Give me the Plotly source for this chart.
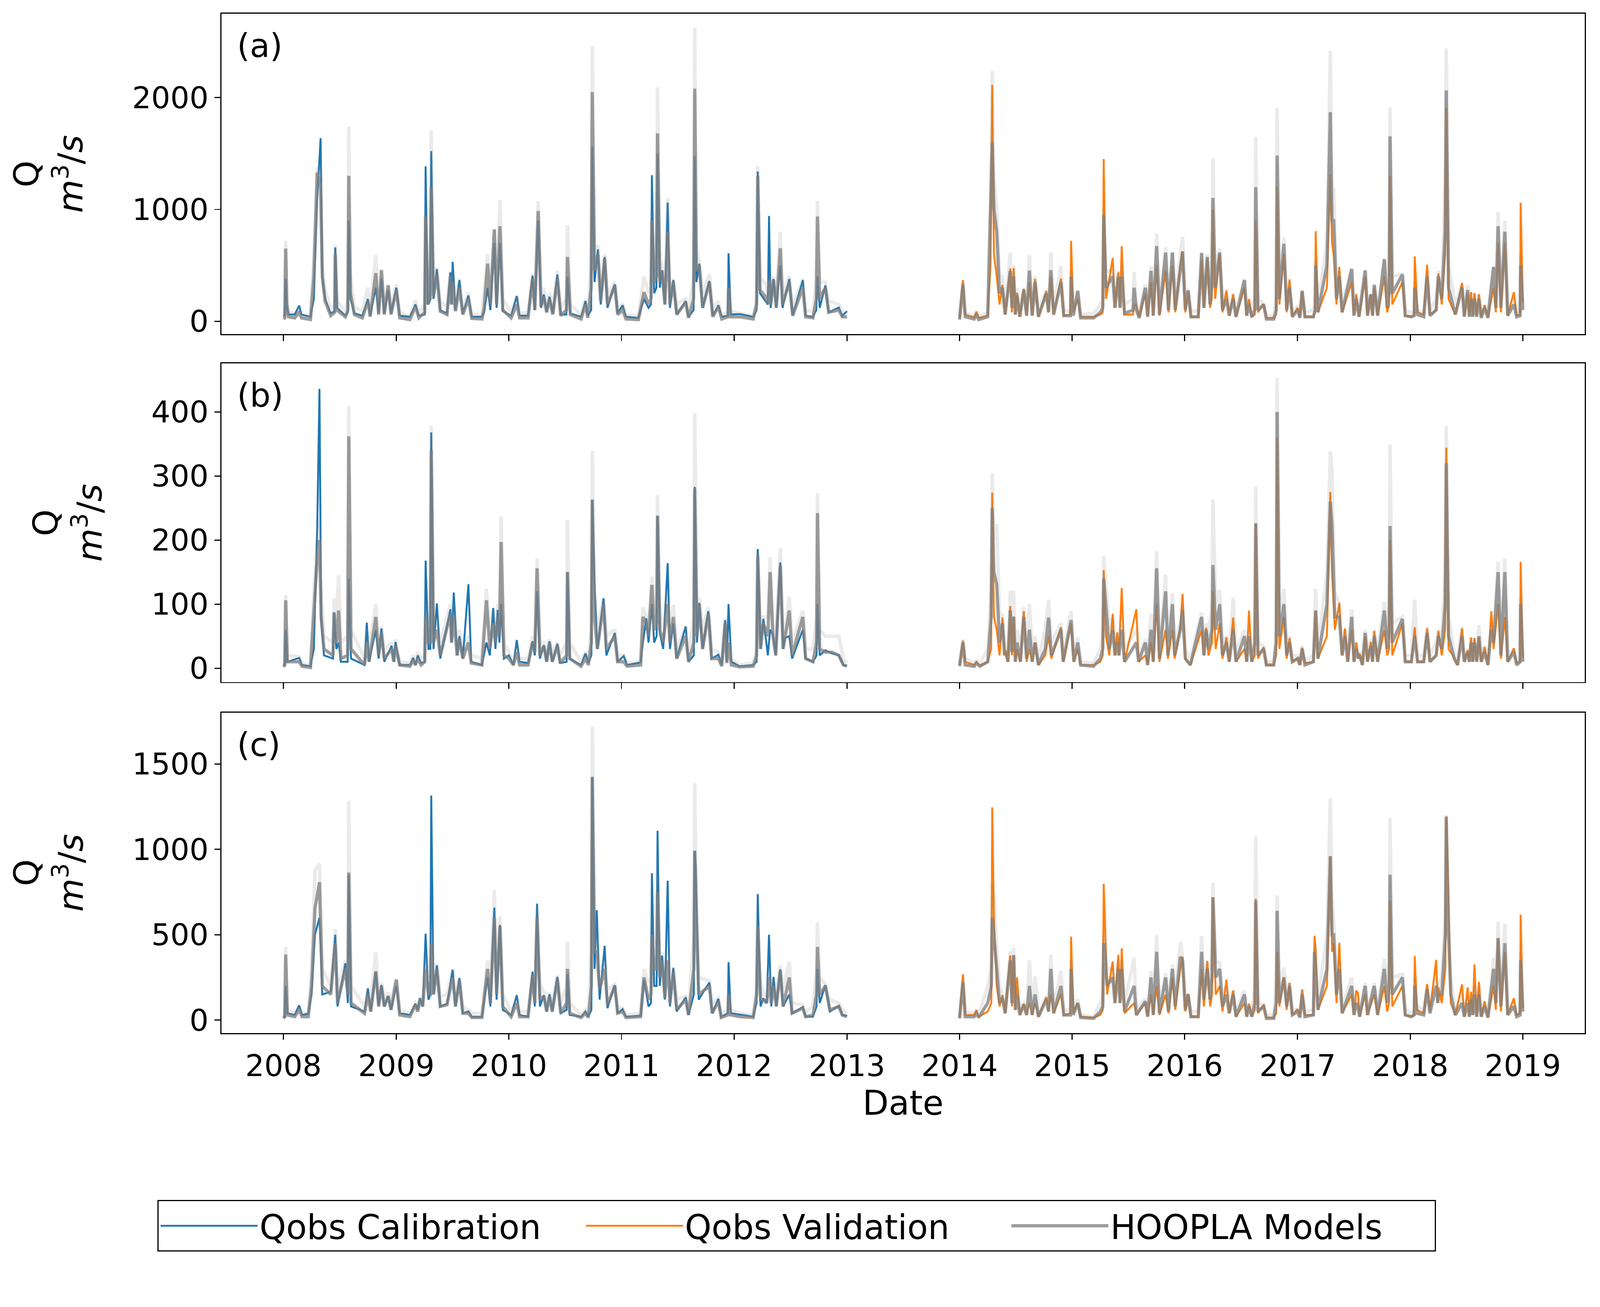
import pandas as pd
import plotly.graph_objects as go
from plotly.subplots import make_subplots

# ======================= Panel (a) : calibration 2008-2012 =======================
a_cal_t = [2008.000, 2008.012, 2008.020, 2008.030, 2008.045, 2008.100, 2008.140, 2008.160, 2008.240, 2008.270,
           2008.300, 2008.330, 2008.345, 2008.370, 2008.420, 2008.455, 2008.460, 2008.475, 2008.550, 2008.572,
           2008.580, 2008.595, 2008.630, 2008.700, 2008.750, 2008.770, 2008.820, 2008.845, 2008.870, 2008.895,
           2008.930, 2008.955, 2009.000, 2009.030, 2009.120, 2009.170, 2009.200, 2009.252, 2009.260, 2009.280,
           2009.300, 2009.310, 2009.330, 2009.360, 2009.390, 2009.450, 2009.480, 2009.490, 2009.500, 2009.525,
           2009.560, 2009.590, 2009.640, 2009.670, 2009.760, 2009.780, 2009.810, 2009.835, 2009.870, 2009.890,
           2009.920, 2009.945, 2010.020, 2010.070, 2010.095, 2010.170, 2010.210, 2010.230, 2010.260, 2010.285,
           2010.310, 2010.335, 2010.360, 2010.390, 2010.430, 2010.460, 2010.510, 2010.520, 2010.545, 2010.640,
           2010.680, 2010.700, 2010.730, 2010.740, 2010.760, 2010.790, 2010.815, 2010.850, 2010.875, 2010.940,
           2010.965, 2011.010, 2011.040, 2011.150, 2011.200, 2011.240, 2011.262, 2011.270, 2011.290, 2011.310,
           2011.320, 2011.340, 2011.360, 2011.385, 2011.410, 2011.430, 2011.460, 2011.490, 2011.570, 2011.595,
           2011.640, 2011.650, 2011.665, 2011.690, 2011.720, 2011.780, 2011.810, 2011.860, 2011.890, 2011.945,
           2011.950, 2011.970, 2012.050, 2012.170, 2012.200, 2012.210, 2012.230, 2012.280, 2012.300, 2012.310,
           2012.325, 2012.350, 2012.375, 2012.410, 2012.430, 2012.490, 2012.520, 2012.610, 2012.635, 2012.700,
           2012.730, 2012.740, 2012.760, 2012.810, 2012.840, 2012.930, 2012.960, 2013.000]
a_cal_obs = [50, 50, 380, 120, 60, 60, 140, 60, 40, 200,
             1100, 1637, 400, 200, 70, 90, 660, 120, 50, 80,
             900, 200, 70, 50, 200, 50, 300, 70, 380, 70,
             280, 70, 300, 50, 40, 150, 50, 60, 1384, 150,
             200, 1522, 200, 466, 100, 70, 437, 150, 531, 100,
             368, 70, 231, 40, 40, 80, 300, 100, 700, 120,
             700, 90, 50, 225, 50, 50, 408, 100, 900, 120,
             240, 80, 220, 70, 418, 60, 60, 400, 70, 40,
             180, 50, 100, 1560, 350, 643, 150, 575, 120, 330,
             70, 143, 40, 30, 200, 120, 150, 1306, 250, 300,
             1500, 300, 457, 150, 1061, 120, 368, 60, 180, 40,
             100, 1480, 350, 515, 120, 360, 50, 143, 40, 50,
             608, 60, 65, 40, 100, 1340, 250, 180, 150, 941,
             120, 378, 120, 500, 120, 378, 50, 368, 50, 40,
             100, 400, 120, 320, 80, 123, 50, 90]
a_cal_mod = [20, 30, 650, 150, 40, 30, 80, 30, 15, 400,
             1330, 1200, 400, 180, 50, 80, 600, 100, 40, 100,
             1300, 250, 60, 30, 180, 40, 430, 60, 456, 60,
             320, 60, 280, 30, 15, 130, 30, 80, 940, 150,
             200, 1200, 220, 420, 90, 60, 400, 150, 350, 90,
             300, 60, 200, 25, 20, 120, 515, 150, 820, 150,
             850, 100, 30, 150, 30, 30, 380, 100, 986, 130,
             220, 80, 200, 60, 380, 50, 100, 575, 60, 20,
             150, 30, 300, 2050, 450, 600, 180, 560, 150, 320,
             60, 100, 20, 15, 260, 150, 200, 900, 350, 400,
             1680, 350, 450, 150, 800, 150, 350, 60, 170, 30,
             200, 2080, 450, 500, 120, 350, 40, 130, 20, 40,
             300, 40, 40, 20, 150, 1300, 280, 220, 150, 368,
             150, 370, 120, 653, 150, 350, 50, 300, 40, 30,
             200, 937, 200, 300, 80, 100, 40, 40]
a_cal_env = [40, 60, 720, 200, 90, 60, 120, 60, 40, 600,
             1360, 1400, 500, 280, 120, 130, 680, 180, 90, 200,
             1740, 400, 130, 90, 300, 100, 590, 130, 470, 130,
             330, 130, 330, 80, 40, 190, 70, 150, 1000, 250,
             300, 1710, 350, 480, 180, 130, 450, 250, 450, 170,
             380, 120, 260, 60, 60, 250, 600, 250, 830, 250,
             1084, 200, 80, 230, 70, 80, 420, 200, 1075, 220,
             300, 150, 260, 130, 450, 120, 200, 860, 150, 60,
             200, 80, 500, 2460, 650, 680, 280, 600, 250, 350,
             120, 150, 60, 50, 400, 250, 300, 1000, 450, 600,
             2090, 550, 500, 250, 1100, 250, 380, 150, 200, 80,
             400, 2620, 650, 540, 250, 420, 120, 180, 60, 80,
             350, 90, 70, 50, 200, 1388, 400, 330, 250, 400,
             250, 400, 220, 800, 260, 400, 120, 380, 100, 80,
             400, 1075, 350, 350, 180, 150, 90, 60]

# ======================= Panel (a) : validation 2014-2018 =======================
a_val_t = [2014.000, 2014.030, 2014.050, 2014.130, 2014.150, 2014.170, 2014.250, 2014.275, 2014.290, 2014.305,
           2014.330, 2014.355, 2014.380, 2014.405, 2014.450, 2014.465, 2014.480, 2014.495, 2014.510, 2014.535,
           2014.570, 2014.595, 2014.620, 2014.645, 2014.670, 2014.700, 2014.770, 2014.790, 2014.810, 2014.835,
           2014.900, 2014.925, 2014.985, 2014.990, 2015.010, 2015.050, 2015.075, 2015.190, 2015.250, 2015.272,
           2015.280, 2015.300, 2015.360, 2015.380, 2015.410, 2015.425, 2015.440, 2015.465, 2015.540, 2015.550,
           2015.570, 2015.595, 2015.650, 2015.670, 2015.700, 2015.720, 2015.750, 2015.775, 2015.830, 2015.855,
           2015.890, 2015.915, 2015.960, 2015.980, 2016.005, 2016.030, 2016.055, 2016.120, 2016.150, 2016.170,
           2016.200, 2016.225, 2016.240, 2016.250, 2016.270, 2016.310, 2016.335, 2016.370, 2016.395, 2016.430,
           2016.455, 2016.530, 2016.550, 2016.570, 2016.595, 2016.622, 2016.630, 2016.650, 2016.700, 2016.725,
           2016.790, 2016.812, 2016.820, 2016.840, 2016.880, 2016.905, 2016.930, 2016.955, 2017.000, 2017.020,
           2017.040, 2017.065, 2017.140, 2017.155, 2017.160, 2017.180, 2017.260, 2017.290, 2017.305, 2017.320,
           2017.345, 2017.370, 2017.395, 2017.480, 2017.500, 2017.520, 2017.545, 2017.600, 2017.620, 2017.650,
           2017.665, 2017.680, 2017.710, 2017.770, 2017.795, 2017.812, 2017.820, 2017.840, 2017.930, 2017.955,
           2018.010, 2018.035, 2018.040, 2018.065, 2018.120, 2018.150, 2018.175, 2018.230, 2018.250, 2018.280,
           2018.310, 2018.320, 2018.340, 2018.400, 2018.460, 2018.480, 2018.510, 2018.525, 2018.540, 2018.555,
           2018.570, 2018.590, 2018.610, 2018.630, 2018.660, 2018.690, 2018.740, 2018.760, 2018.780, 2018.805,
           2018.840, 2018.865, 2018.920, 2018.945, 2018.975, 2018.980, 2019.000]
a_val_obs = [30, 369, 60, 35, 85, 30, 50, 500, 2114, 600,
             400, 150, 325, 60, 472, 80, 476, 60, 255, 40,
             290, 50, 350, 50, 378, 40, 270, 80, 400, 60,
             382, 50, 60, 720, 80, 200, 40, 40, 60, 80,
             1451, 200, 565, 120, 437, 120, 671, 60, 60, 150,
             143, 40, 250, 40, 350, 50, 500, 50, 450, 80,
             500, 80, 500, 624, 80, 260, 40, 40, 550, 120,
             560, 120, 200, 1000, 200, 600, 80, 276, 50, 241,
             40, 300, 50, 198, 40, 60, 900, 80, 153, 30,
             30, 60, 1200, 150, 600, 80, 374, 40, 120, 40,
             270, 40, 40, 100, 806, 80, 300, 1310, 700, 600,
             150, 486, 80, 350, 50, 241, 40, 400, 50, 241,
             50, 300, 50, 400, 80, 150, 1300, 150, 350, 50,
             40, 60, 580, 80, 60, 506, 60, 100, 427, 150,
             600, 1912, 200, 60, 343, 50, 250, 50, 261, 50,
             251, 50, 241, 40, 143, 40, 300, 80, 700, 80,
             700, 50, 261, 50, 60, 1059, 173]
a_val_mod = [15, 330, 40, 20, 60, 15, 40, 900, 1600, 1000,
             800, 250, 300, 60, 450, 120, 400, 60, 230, 40,
             280, 50, 453, 50, 350, 40, 250, 80, 457, 60,
             350, 50, 50, 400, 50, 270, 30, 30, 80, 120,
             950, 300, 400, 120, 400, 120, 400, 70, 100, 300,
             100, 30, 300, 40, 450, 50, 672, 60, 614, 100,
             614, 100, 500, 624, 100, 276, 40, 40, 610, 120,
             575, 150, 300, 1104, 300, 614, 100, 200, 50, 200,
             40, 368, 50, 150, 40, 100, 1200, 100, 150, 20,
             20, 100, 1482, 200, 692, 100, 300, 40, 100, 30,
             270, 40, 40, 100, 500, 80, 500, 1870, 900, 900,
             200, 400, 80, 467, 50, 200, 40, 453, 50, 240,
             50, 325, 50, 555, 120, 250, 1653, 250, 418, 50,
             40, 50, 300, 60, 40, 400, 50, 100, 400, 200,
             800, 2065, 300, 60, 300, 40, 280, 40, 200, 40,
             200, 40, 200, 30, 120, 30, 486, 120, 850, 120,
             800, 50, 150, 40, 50, 500, 100]
a_val_env = [40, 360, 80, 40, 90, 40, 80, 1100, 2237, 1270,
             1000, 400, 400, 120, 614, 200, 500, 120, 300, 90,
             300, 100, 590, 110, 400, 90, 280, 150, 617, 130,
             496, 100, 80, 450, 100, 280, 60, 70, 150, 200,
             1006, 450, 450, 200, 450, 200, 500, 150, 200, 443,
             150, 80, 330, 90, 492, 120, 784, 150, 663, 200,
             620, 200, 584, 755, 200, 290, 90, 90, 620, 200,
             600, 250, 500, 1457, 450, 653, 200, 250, 100, 250,
             90, 380, 100, 200, 90, 200, 1649, 200, 160, 50,
             50, 200, 1908, 300, 750, 200, 350, 90, 130, 60,
             280, 80, 100, 150, 550, 160, 700, 2418, 1200, 1182,
             350, 450, 160, 470, 100, 250, 90, 460, 120, 250,
             120, 330, 100, 560, 220, 400, 1912, 400, 420, 100,
             80, 80, 350, 100, 80, 450, 100, 200, 450, 300,
             1200, 2441, 500, 150, 330, 90, 324, 90, 261, 90,
             251, 90, 241, 80, 143, 80, 490, 180, 976, 220,
             898, 110, 200, 90, 100, 600, 150]

# ======================= Panel (b) : calibration =======================
b_cal_t = [2008.000, 2008.012, 2008.020, 2008.035, 2008.140, 2008.165, 2008.240, 2008.270, 2008.300, 2008.320,
           2008.335, 2008.360, 2008.440, 2008.450, 2008.470, 2008.490, 2008.510, 2008.570, 2008.580, 2008.600,
           2008.720, 2008.740, 2008.760, 2008.820, 2008.845, 2008.870, 2008.895, 2008.960, 2008.980, 2008.995,
           2009.030, 2009.120, 2009.150, 2009.170, 2009.190, 2009.220, 2009.252, 2009.260, 2009.285, 2009.302,
           2009.310, 2009.330, 2009.360, 2009.390, 2009.480, 2009.490, 2009.510, 2009.540, 2009.560, 2009.590,
           2009.640, 2009.665, 2009.760, 2009.800, 2009.830, 2009.860, 2009.880, 2009.900, 2009.915, 2009.930,
           2009.955, 2010.000, 2010.040, 2010.070, 2010.095, 2010.170, 2010.210, 2010.230, 2010.250, 2010.275,
           2010.310, 2010.335, 2010.360, 2010.385, 2010.430, 2010.455, 2010.512, 2010.520, 2010.540, 2010.640,
           2010.680, 2010.705, 2010.732, 2010.740, 2010.760, 2010.785, 2010.840, 2010.865, 2010.940, 2010.965,
           2011.020, 2011.050, 2011.170, 2011.190, 2011.220, 2011.240, 2011.270, 2011.290, 2011.312, 2011.320,
           2011.340, 2011.370, 2011.410, 2011.430, 2011.460, 2011.490, 2011.570, 2011.595, 2011.642, 2011.650,
           2011.670, 2011.690, 2011.720, 2011.770, 2011.780, 2011.800, 2011.860, 2011.890, 2011.920, 2011.935,
           2011.950, 2011.975, 2012.050, 2012.170, 2012.200, 2012.210, 2012.235, 2012.260, 2012.300, 2012.320,
           2012.345, 2012.370, 2012.410, 2012.435, 2012.450, 2012.490, 2012.515, 2012.610, 2012.635, 2012.700,
           2012.732, 2012.740, 2012.760, 2012.810, 2012.870, 2012.930, 2012.970, 2013.000]
b_cal_obs = [5, 5, 60, 10, 16, 5, 3, 30, 219, 436,
             74, 20, 15, 87, 30, 40, 10, 10, 140, 15,
             5, 71, 10, 60, 15, 62, 10, 35, 10, 41,
             5, 5, 16, 5, 20, 8, 10, 168, 30, 30,
             368, 30, 101, 15, 92, 40, 118, 20, 50, 15,
             131, 10, 5, 40, 20, 94, 30, 91, 40, 100,
             15, 20, 5, 44, 10, 8, 42, 20, 120, 15,
             36, 10, 42, 10, 38, 8, 10, 150, 15, 5,
             23, 8, 20, 263, 131, 30, 109, 20, 55, 10,
             19, 5, 9, 40, 78, 40, 100, 40, 50, 238,
             55, 30, 164, 30, 70, 15, 65, 10, 20, 283,
             40, 102, 30, 89, 75, 15, 21, 5, 75, 10,
             100, 10, 3, 5, 10, 186, 30, 77, 20, 60,
             52, 20, 165, 30, 47, 50, 15, 60, 15, 10,
             20, 100, 20, 28, 23, 20, 5, 4]
b_cal_mod = [2, 5, 106, 10, 10, 3, 1, 80, 173, 200,
             80, 30, 20, 87, 40, 90, 15, 20, 362, 30,
             5, 40, 10, 80, 20, 55, 15, 30, 10, 35,
             5, 3, 12, 5, 15, 5, 10, 80, 40, 40,
             340, 40, 60, 20, 85, 40, 80, 20, 45, 15,
             40, 8, 5, 106, 30, 70, 40, 80, 50, 197,
             20, 15, 5, 25, 5, 5, 40, 25, 156, 20,
             35, 10, 40, 10, 35, 8, 20, 150, 15, 3,
             15, 5, 40, 263, 80, 30, 100, 30, 50, 10,
             10, 3, 5, 80, 70, 50, 130, 60, 70, 238,
             60, 40, 100, 40, 80, 15, 50, 10, 40, 280,
             50, 100, 30, 85, 60, 15, 15, 3, 70, 8,
             40, 5, 2, 3, 20, 175, 30, 70, 50, 150,
             50, 20, 160, 30, 45, 90, 20, 80, 15, 10,
             40, 242, 30, 25, 25, 20, 5, 3]
b_cal_env = [5, 10, 114, 20, 18, 8, 5, 120, 200, 230,
             120, 50, 40, 109, 80, 145, 40, 50, 409, 60,
             15, 60, 30, 100, 40, 65, 30, 40, 20, 45,
             10, 8, 20, 10, 25, 15, 20, 100, 60, 60,
             379, 70, 80, 40, 100, 60, 100, 40, 60, 30,
             50, 20, 15, 124, 50, 90, 60, 100, 70, 237,
             40, 25, 10, 35, 15, 15, 50, 40, 171, 40,
             40, 25, 45, 25, 40, 20, 40, 232, 40, 10,
             25, 15, 60, 339, 120, 60, 110, 50, 60, 20,
             20, 8, 10, 95, 80, 63, 143, 90, 100, 270,
             90, 60, 120, 60, 99, 30, 65, 20, 80, 398,
             100, 110, 60, 95, 80, 30, 25, 10, 78, 15,
             50, 15, 5, 8, 30, 185, 60, 80, 80, 173,
             60, 40, 187, 60, 50, 112, 40, 90, 30, 30,
             80, 273, 60, 50, 50, 50, 15, 8]

# ======================= Panel (b) : validation =======================
b_val_t = [2014.000, 2014.030, 2014.050, 2014.130, 2014.150, 2014.180, 2014.250, 2014.280, 2014.290, 2014.305,
           2014.330, 2014.355, 2014.380, 2014.400, 2014.410, 2014.430, 2014.450, 2014.465, 2014.480, 2014.495,
           2014.510, 2014.540, 2014.570, 2014.595, 2014.620, 2014.645, 2014.670, 2014.700, 2014.760, 2014.790,
           2014.815, 2014.900, 2014.920, 2014.990, 2015.015, 2015.050, 2015.075, 2015.190, 2015.250, 2015.272,
           2015.280, 2015.300, 2015.330, 2015.360, 2015.380, 2015.400, 2015.415, 2015.440, 2015.465, 2015.570,
           2015.590, 2015.650, 2015.670, 2015.700, 2015.720, 2015.750, 2015.775, 2015.830, 2015.850, 2015.890,
           2015.910, 2015.960, 2015.980, 2016.005, 2016.050, 2016.150, 2016.170, 2016.190, 2016.210, 2016.242,
           2016.250, 2016.275, 2016.310, 2016.335, 2016.370, 2016.395, 2016.430, 2016.455, 2016.530, 2016.550,
           2016.570, 2016.595, 2016.622, 2016.630, 2016.650, 2016.700, 2016.725, 2016.790, 2016.812, 2016.820,
           2016.840, 2016.880, 2016.905, 2016.930, 2016.955, 2017.000, 2017.020, 2017.040, 2017.065, 2017.140,
           2017.160, 2017.180, 2017.260, 2017.290, 2017.305, 2017.330, 2017.370, 2017.395, 2017.420, 2017.445,
           2017.480, 2017.500, 2017.520, 2017.540, 2017.550, 2017.575, 2017.600, 2017.620, 2017.650, 2017.665,
           2017.680, 2017.710, 2017.770, 2017.795, 2017.812, 2017.820, 2017.840, 2017.930, 2017.955, 2018.010,
           2018.040, 2018.065, 2018.120, 2018.150, 2018.175, 2018.230, 2018.250, 2018.280, 2018.310, 2018.320,
           2018.340, 2018.390, 2018.420, 2018.460, 2018.480, 2018.510, 2018.525, 2018.540, 2018.555, 2018.570,
           2018.590, 2018.610, 2018.630, 2018.660, 2018.690, 2018.720, 2018.740, 2018.780, 2018.805, 2018.840,
           2018.865, 2018.920, 2018.945, 2018.975, 2018.980, 2019.000]
b_val_obs = [5, 43, 10, 5, 10, 4, 10, 30, 274, 80,
             60, 20, 79, 20, 28, 10, 97, 20, 81, 10,
             30, 10, 89, 10, 30, 10, 40, 5, 20, 50,
             15, 64, 10, 70, 10, 30, 5, 5, 10, 20,
             153, 50, 20, 85, 20, 56, 20, 125, 10, 92,
             10, 20, 5, 40, 10, 100, 10, 60, 15, 60,
             15, 63, 116, 15, 5, 60, 20, 63, 20, 40,
             120, 30, 70, 15, 48, 10, 79, 10, 30, 10,
             90, 10, 20, 226, 15, 33, 5, 5, 20, 360,
             30, 80, 15, 47, 10, 16, 5, 32, 8, 10,
             90, 15, 50, 275, 150, 60, 102, 20, 62, 10,
             60, 10, 40, 15, 23, 5, 50, 10, 41, 10,
             58, 10, 60, 20, 30, 200, 20, 70, 10, 10,
             64, 10, 10, 62, 10, 20, 58, 20, 60, 344,
             30, 17, 5, 62, 10, 28, 10, 48, 10, 47,
             10, 48, 10, 33, 5, 89, 30, 100, 15, 80,
             10, 31, 8, 10, 166, 18]
b_val_mod = [3, 40, 5, 3, 8, 3, 10, 80, 250, 150,
             131, 40, 70, 20, 25, 10, 90, 25, 80, 10,
             40, 10, 80, 15, 60, 10, 40, 5, 30, 79,
             20, 60, 10, 75, 10, 40, 5, 3, 15, 30,
             140, 100, 30, 60, 20, 40, 20, 60, 10, 40,
             10, 40, 5, 60, 10, 156, 15, 120, 20, 100,
             20, 60, 90, 15, 5, 80, 20, 60, 30, 60,
             161, 60, 100, 20, 40, 10, 60, 10, 50, 10,
             50, 10, 40, 226, 20, 30, 5, 5, 40, 400,
             50, 100, 20, 40, 10, 15, 5, 30, 5, 10,
             90, 15, 100, 260, 224, 80, 80, 20, 50, 10,
             80, 10, 30, 15, 20, 5, 55, 10, 35, 10,
             50, 10, 90, 30, 60, 222, 40, 77, 10, 10,
             50, 10, 10, 55, 10, 20, 50, 30, 100, 320,
             50, 15, 5, 50, 10, 25, 10, 40, 10, 40,
             10, 50, 10, 25, 5, 60, 40, 150, 20, 150,
             10, 25, 5, 10, 100, 10]
b_val_env = [8, 45, 15, 8, 12, 8, 30, 120, 304, 200,
             225, 80, 85, 40, 35, 25, 121, 50, 121, 30,
             60, 30, 95, 30, 100, 30, 50, 15, 60, 107,
             40, 70, 25, 89, 20, 48, 10, 8, 30, 50,
             175, 126, 60, 80, 40, 50, 40, 80, 30, 60,
             20, 45, 15, 85, 25, 183, 30, 146, 40, 117,
             40, 70, 100, 30, 15, 87, 40, 70, 50, 100,
             263, 100, 122, 40, 50, 25, 110, 25, 60, 25,
             60, 25, 60, 283, 40, 35, 10, 10, 60, 453,
             80, 124, 40, 50, 20, 20, 10, 35, 12, 20,
             124, 30, 150, 338, 308, 120, 100, 40, 60, 25,
             92, 25, 40, 25, 25, 15, 60, 25, 45, 20,
             60, 25, 104, 50, 100, 349, 70, 80, 20, 20,
             107, 20, 20, 65, 20, 40, 60, 50, 150, 378,
             80, 25, 15, 65, 20, 30, 20, 48, 20, 47,
             20, 67, 20, 35, 15, 70, 50, 166, 40, 171,
             20, 30, 12, 15, 110, 15]

# ======================= Panel (c) : calibration =======================
c_cal_t = [2008.000, 2008.012, 2008.020, 2008.035, 2008.100, 2008.140, 2008.165, 2008.220, 2008.250, 2008.280,
           2008.320, 2008.345, 2008.420, 2008.460, 2008.480, 2008.550, 2008.572, 2008.580, 2008.600, 2008.720,
           2008.750, 2008.775, 2008.820, 2008.845, 2008.870, 2008.895, 2008.930, 2008.955, 2009.000, 2009.030,
           2009.120, 2009.170, 2009.190, 2009.210, 2009.235, 2009.260, 2009.285, 2009.302, 2009.310, 2009.330,
           2009.360, 2009.390, 2009.450, 2009.500, 2009.525, 2009.560, 2009.590, 2009.640, 2009.670, 2009.760,
           2009.810, 2009.835, 2009.870, 2009.890, 2009.920, 2009.945, 2010.020, 2010.070, 2010.095, 2010.170,
           2010.210, 2010.230, 2010.250, 2010.275, 2010.310, 2010.335, 2010.360, 2010.385, 2010.430, 2010.460,
           2010.512, 2010.520, 2010.540, 2010.640, 2010.680, 2010.705, 2010.732, 2010.740, 2010.760, 2010.780,
           2010.805, 2010.850, 2010.875, 2010.940, 2010.965, 2011.010, 2011.040, 2011.170, 2011.200, 2011.240,
           2011.262, 2011.270, 2011.290, 2011.312, 2011.320, 2011.340, 2011.360, 2011.385, 2011.410, 2011.430,
           2011.460, 2011.490, 2011.570, 2011.595, 2011.642, 2011.650, 2011.660, 2011.685, 2011.780, 2011.805,
           2011.860, 2011.885, 2011.945, 2011.950, 2011.970, 2012.050, 2012.170, 2012.200, 2012.210, 2012.235,
           2012.260, 2012.290, 2012.310, 2012.330, 2012.350, 2012.375, 2012.410, 2012.435, 2012.490, 2012.515,
           2012.610, 2012.635, 2012.700, 2012.732, 2012.740, 2012.760, 2012.810, 2012.830, 2012.850, 2012.930,
           2012.960, 2013.000]
c_cal_obs = [20, 20, 200, 40, 30, 86, 30, 38, 147, 500,
             600, 150, 166, 500, 80, 333, 100, 850, 80, 50,
             186, 50, 285, 80, 205, 80, 141, 60, 200, 40,
             30, 96, 60, 128, 80, 506, 120, 150, 1315, 150,
             320, 80, 96, 294, 80, 246, 40, 51, 20, 20,
             250, 80, 659, 120, 557, 60, 30, 146, 30, 20,
             282, 80, 682, 80, 146, 50, 151, 50, 253, 40,
             60, 269, 30, 20, 51, 20, 60, 1424, 300, 644,
             120, 435, 70, 205, 40, 64, 20, 26, 237, 80,
             100, 860, 200, 200, 1109, 200, 378, 120, 817, 80,
             305, 50, 134, 30, 150, 992, 887, 120, 220, 40,
             125, 20, 40, 339, 40, 32, 20, 100, 738, 80,
             128, 100, 500, 80, 253, 80, 297, 80, 150, 40,
             77, 20, 20, 80, 300, 100, 205, 134, 50, 83,
             30, 26]
c_cal_mod = [10, 20, 384, 30, 20, 60, 20, 20, 200, 653,
             807, 200, 150, 450, 100, 300, 150, 864, 100, 40,
             150, 50, 285, 80, 200, 80, 140, 60, 237, 30,
             20, 90, 50, 120, 80, 300, 150, 150, 450, 150,
             300, 80, 90, 250, 80, 230, 40, 40, 15, 15,
             300, 100, 600, 150, 550, 80, 20, 100, 20, 20,
             260, 100, 600, 120, 140, 50, 140, 50, 240, 40,
             100, 300, 40, 15, 40, 15, 200, 1424, 400, 400,
             180, 300, 90, 200, 40, 50, 15, 20, 250, 120,
             150, 500, 300, 300, 750, 250, 350, 130, 350, 100,
             280, 60, 120, 30, 300, 992, 700, 150, 200, 40,
             110, 15, 30, 150, 30, 20, 15, 150, 550, 120,
             120, 100, 250, 100, 200, 80, 290, 80, 250, 40,
             70, 20, 30, 150, 429, 150, 200, 120, 60, 80,
             30, 20]
c_cal_env = [20, 40, 429, 60, 40, 80, 40, 40, 300, 877,
             915, 300, 200, 534, 180, 350, 250, 1284, 200, 80,
             180, 100, 397, 150, 220, 130, 160, 110, 240, 60,
             40, 100, 80, 130, 130, 380, 250, 250, 550, 250,
             330, 140, 150, 300, 130, 250, 80, 60, 40, 40,
             350, 180, 761, 250, 608, 150, 50, 120, 50, 50,
             290, 180, 650, 220, 160, 100, 160, 100, 260, 100,
             200, 461, 100, 30, 60, 30, 400, 1716, 600, 500,
             280, 350, 180, 210, 80, 70, 30, 40, 300, 220,
             250, 600, 400, 400, 850, 350, 400, 220, 400, 180,
             310, 120, 140, 60, 500, 1387, 900, 250, 230, 100,
             130, 40, 60, 180, 60, 40, 30, 200, 600, 220,
             150, 150, 300, 180, 230, 160, 320, 180, 339, 100,
             90, 50, 80, 300, 572, 250, 210, 150, 120, 100,
             60, 40]

# ======================= Panel (c) : validation =======================
c_val_t = [2014.000, 2014.030, 2014.050, 2014.130, 2014.150, 2014.170, 2014.250, 2014.282, 2014.290, 2014.305,
           2014.330, 2014.355, 2014.380, 2014.405, 2014.450, 2014.465, 2014.480, 2014.495, 2014.510, 2014.535,
           2014.570, 2014.595, 2014.620, 2014.645, 2014.670, 2014.700, 2014.770, 2014.790, 2014.810, 2014.835,
           2014.900, 2014.925, 2014.985, 2014.990, 2015.010, 2015.050, 2015.075, 2015.190, 2015.250, 2015.272,
           2015.280, 2015.290, 2015.310, 2015.360, 2015.380, 2015.410, 2015.425, 2015.440, 2015.465, 2015.550,
           2015.570, 2015.650, 2015.670, 2015.700, 2015.720, 2015.750, 2015.775, 2015.830, 2015.855, 2015.890,
           2015.915, 2015.960, 2015.980, 2016.005, 2016.030, 2016.055, 2016.120, 2016.150, 2016.170, 2016.200,
           2016.225, 2016.242, 2016.250, 2016.275, 2016.310, 2016.335, 2016.370, 2016.395, 2016.430, 2016.455,
           2016.530, 2016.550, 2016.570, 2016.595, 2016.622, 2016.630, 2016.650, 2016.700, 2016.725, 2016.790,
           2016.812, 2016.820, 2016.840, 2016.880, 2016.905, 2016.930, 2016.955, 2017.000, 2017.020, 2017.040,
           2017.065, 2017.140, 2017.150, 2017.160, 2017.180, 2017.260, 2017.290, 2017.305, 2017.320, 2017.345,
           2017.370, 2017.395, 2017.480, 2017.500, 2017.520, 2017.535, 2017.550, 2017.600, 2017.620, 2017.680,
           2017.710, 2017.770, 2017.795, 2017.812, 2017.820, 2017.840, 2017.930, 2017.955, 2018.010, 2018.035,
           2018.040, 2018.060, 2018.120, 2018.150, 2018.175, 2018.230, 2018.245, 2018.250, 2018.280, 2018.312,
           2018.320, 2018.335, 2018.360, 2018.400, 2018.460, 2018.480, 2018.510, 2018.525, 2018.540, 2018.555,
           2018.570, 2018.590, 2018.610, 2018.630, 2018.660, 2018.690, 2018.740, 2018.760, 2018.780, 2018.805,
           2018.840, 2018.865, 2018.920, 2018.945, 2018.975, 2018.980, 2019.000]
c_val_obs = [13, 269, 30, 30, 58, 20, 50, 100, 1246, 589,
             200, 80, 147, 40, 378, 80, 380, 60, 250, 30,
             96, 30, 100, 30, 100, 20, 134, 50, 150, 40,
             150, 30, 40, 489, 40, 100, 20, 15, 30, 60,
             798, 615, 150, 343, 100, 382, 100, 420, 40, 100,
             30, 100, 20, 150, 30, 200, 30, 150, 40, 250,
             60, 300, 371, 50, 154, 20, 20, 300, 80, 346,
             80, 150, 720, 150, 200, 50, 237, 40, 173, 20,
             100, 20, 96, 20, 60, 711, 40, 90, 15, 15,
             40, 400, 80, 250, 60, 218, 30, 64, 20, 179,
             30, 30, 493, 416, 60, 200, 960, 400, 450, 100,
             452, 40, 150, 30, 173, 160, 20, 150, 30, 150,
             30, 200, 50, 100, 700, 80, 200, 30, 20, 30,
             375, 60, 40, 211, 50, 352, 100, 192, 100, 300,
             1193, 871, 100, 30, 209, 20, 192, 20, 166, 30,
             326, 20, 224, 20, 109, 15, 200, 60, 480, 50,
             400, 30, 128, 30, 40, 617, 70]
c_val_mod = [10, 220, 20, 20, 40, 15, 100, 200, 600, 500,
             300, 100, 130, 40, 350, 100, 380, 60, 150, 30,
             90, 30, 200, 30, 150, 20, 120, 50, 300, 40,
             200, 30, 30, 300, 30, 100, 15, 10, 50, 80,
             450, 400, 200, 250, 100, 300, 100, 300, 50, 200,
             30, 110, 20, 250, 30, 400, 40, 250, 50, 300,
             80, 371, 350, 60, 150, 20, 20, 400, 120, 300,
             120, 250, 720, 250, 300, 80, 150, 40, 150, 20,
             150, 20, 80, 20, 100, 700, 50, 80, 10, 10,
             100, 640, 100, 250, 80, 200, 30, 50, 15, 150,
             20, 30, 400, 300, 60, 300, 960, 500, 500, 150,
             300, 40, 200, 30, 100, 80, 20, 200, 30, 200,
             30, 300, 100, 200, 851, 150, 250, 30, 20, 30,
             200, 40, 30, 180, 40, 200, 100, 150, 150, 500,
             1190, 600, 150, 30, 100, 20, 100, 20, 120, 30,
             150, 20, 150, 20, 80, 15, 300, 100, 480, 80,
             450, 30, 80, 20, 30, 350, 50]
c_val_env = [20, 240, 50, 40, 60, 30, 200, 300, 800, 730,
             423, 200, 150, 80, 403, 180, 423, 130, 200, 80,
             100, 60, 352, 60, 256, 40, 140, 100, 384, 80,
             288, 60, 60, 350, 60, 122, 30, 20, 100, 150,
             500, 450, 300, 300, 150, 350, 150, 350, 100, 365,
             60, 125, 50, 288, 60, 499, 80, 275, 100, 326,
             150, 458, 371, 120, 154, 50, 50, 493, 220, 346,
             220, 400, 804, 339, 339, 150, 200, 100, 173, 50,
             173, 50, 96, 40, 200, 1076, 100, 90, 30, 30,
             200, 730, 200, 307, 150, 218, 60, 64, 40, 179,
             50, 60, 450, 350, 120, 500, 1300, 700, 589, 250,
             350, 80, 250, 60, 120, 100, 40, 218, 60, 218,
             60, 358, 200, 350, 1184, 250, 269, 60, 40, 50,
             250, 80, 60, 200, 80, 250, 150, 200, 250, 600,
             1200, 700, 250, 60, 150, 50, 130, 50, 140, 50,
             200, 50, 200, 50, 109, 30, 365, 150, 576, 150,
             563, 60, 100, 40, 50, 400, 80]

panel_labels = ["(a)", "(b)", "(c)"]
y_dticks = [1000, 100, 500]
legend_names = ["Qobs Calibration", "Qobs Validation", "HOOPLA Models"]

panels = [
    (a_cal_t, a_cal_obs, a_cal_mod, a_cal_env, a_val_t, a_val_obs, a_val_mod, a_val_env),
    (b_cal_t, b_cal_obs, b_cal_mod, b_cal_env, b_val_t, b_val_obs, b_val_mod, b_val_env),
    (c_cal_t, c_cal_obs, c_cal_mod, c_cal_env, c_val_t, c_val_obs, c_val_mod, c_val_env),
]

for i, p in enumerate(panels):
    assert len(p[0]) == len(p[1]) == len(p[2]) == len(p[3]), (i, "cal", len(p[0]), len(p[1]), len(p[2]), len(p[3]))
    assert len(p[4]) == len(p[5]) == len(p[6]) == len(p[7]), (i, "val", len(p[4]), len(p[5]), len(p[6]), len(p[7]))
    assert all(b > a for a, b in zip(p[0], p[0][1:])), (i, "cal order")
    assert all(b > a for a, b in zip(p[4], p[4][1:])), (i, "val order")


def to_dates(ts):
    out = []
    for t in ts:
        y = int(t + 1e-9)
        out.append(pd.Timestamp(year=y, month=1, day=1) + pd.Timedelta(days=(t - y) * 365.25))
    return out


BLUE = "#1f77b4"
ORANGE = "#ff7f0e"
GREY_CORE = "rgba(128,128,128,0.78)"
GREY_ENV = "rgba(128,128,128,0.17)"
FONT = "DejaVu Sans"
W, H = 4205, 3345

fig = make_subplots(rows=3, cols=1, shared_xaxes=True)

all_dates = []
for r, p in enumerate(panels, start=1):
    ct, co, cm, ce, vt, vo, vm, ve = p
    cd, vd = to_dates(ct), to_dates(vt)
    all_dates += cd + vd
    first = (r == 1)
    fig.add_trace(go.Scatter(x=cd, y=co, mode="lines", line=dict(color=BLUE, width=5),
                             name=legend_names[0], showlegend=first), row=r, col=1)
    fig.add_trace(go.Scatter(x=vd, y=vo, mode="lines", line=dict(color=ORANGE, width=5),
                             name=legend_names[1], showlegend=first), row=r, col=1)
    for d, e in ((cd, ce), (vd, ve)):
        fig.add_trace(go.Scatter(x=d, y=e, mode="lines", line=dict(color=GREY_ENV, width=9),
                                 showlegend=False, hoverinfo="skip"), row=r, col=1)
    fig.add_trace(go.Scatter(x=cd, y=cm, mode="lines", line=dict(color=GREY_CORE, width=8.5),
                             name=legend_names[2], showlegend=first), row=r, col=1)
    fig.add_trace(go.Scatter(x=vd, y=vm, mode="lines", line=dict(color=GREY_CORE, width=8.5),
                             showlegend=False), row=r, col=1)

    vals = co + cm + ce + vo + vm + ve
    lo, hi = min(vals), max(vals)
    span = hi - lo
    fig.update_yaxes(range=[lo - 0.05 * span, hi + 0.05 * span], dtick=y_dticks[r - 1], tick0=0,
                     row=r, col=1)
    fig.add_annotation(text=panel_labels[r - 1], xref=f"x{'' if r == 1 else r} domain",
                       yref=f"y{'' if r == 1 else r} domain", x=0.011, y=0.90,
                       xanchor="left", yanchor="middle", showarrow=False,
                       font=dict(size=86, family=FONT, color="black"))

dmin, dmax = min(all_dates), max(all_dates)
pad = (dmax - dmin) * 0.05
xrange = [dmin - pad, dmax + pad]

axis_common = dict(showline=True, mirror=True, linecolor="black", linewidth=3,
                   ticks="outside", ticklen=15, tickwidth=3, tickcolor="black",
                   showgrid=False, zeroline=False, tickfont=dict(size=79, family=FONT, color="black"))

fig.update_xaxes(**axis_common, range=xrange, dtick="M12", tick0="2008-01-01", tickformat="%Y")
fig.update_xaxes(showticklabels=False, row=1, col=1)
fig.update_xaxes(showticklabels=False, row=2, col=1)
fig.update_xaxes(title=dict(text="Date", font=dict(size=89, family=FONT, color="black"), standoff=18),
                 row=3, col=1)
fig.update_yaxes(**axis_common)
fig.update_yaxes(title=dict(text="Q<br><i>m</i><sup>3</sup>/<i>s</i>",
                            font=dict(size=90, family=FONT, color="black"), standoff=100))

fig.update_layout(
    width=W, height=H,
    margin=dict(l=582, r=40, t=36, b=631, autoexpand=False),
    plot_bgcolor="white", paper_bgcolor="white",
    font=dict(family=FONT, size=80, color="black"),
    yaxis=dict(domain=[0.6856, 1.0]),
    yaxis2=dict(domain=[0.3443, 0.6568]),
    yaxis3=dict(domain=[0.0, 0.3144]),
    legend=dict(orientation="h", x=0.422, xanchor="center", y=-0.164, yanchor="top",
                bordercolor="black", borderwidth=3, bgcolor="white",
                font=dict(size=89, family=FONT, color="black"),
                itemwidth=255, entrywidth=848, entrywidthmode="pixels"),
    showlegend=True,
)

# fit the fixed-size figure into the browser viewport (no body margin, no scrollbars)
fit_js = (
    "document.body.style.margin='0';"
    "document.body.style.overflow='hidden';"
    "var gd=document.getElementById('{plot_id}');"
    "var s=Math.min(window.innerWidth/%d, window.innerHeight/%d);"
    "gd.style.transformOrigin='0 0';"
    "gd.style.transform='scale('+s+')';" % (W, H)
)

fig.write_html("out.html", post_script=fit_js, config={"displayModeBar": False})
